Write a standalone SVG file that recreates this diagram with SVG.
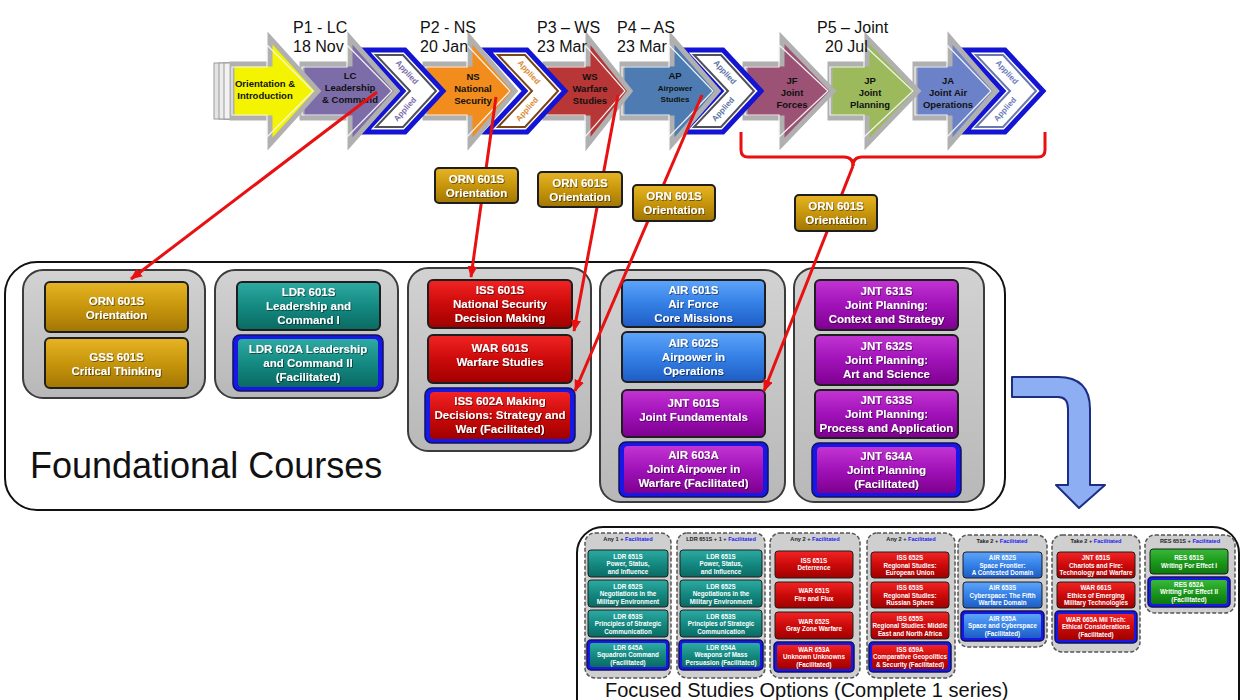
<svg xmlns="http://www.w3.org/2000/svg" width="1241" height="700" viewBox="0 0 1241 700">
<defs>
<linearGradient id="gGold" x1="0" y1="0" x2="0" y2="1"><stop offset="0" stop-color="#e6b424"/><stop offset="0.5" stop-color="#c8960c"/><stop offset="1" stop-color="#a27604"/></linearGradient>
<linearGradient id="gTeal" x1="0" y1="0" x2="0" y2="1"><stop offset="0" stop-color="#2eaaa2"/><stop offset="0.5" stop-color="#148a82"/><stop offset="1" stop-color="#0a6a62"/></linearGradient>
<linearGradient id="gRed" x1="0" y1="0" x2="0" y2="1"><stop offset="0" stop-color="#f22424"/><stop offset="0.5" stop-color="#cc0a0a"/><stop offset="1" stop-color="#a00000"/></linearGradient>
<linearGradient id="gBlue" x1="0" y1="0" x2="0" y2="1"><stop offset="0" stop-color="#5ea4fa"/><stop offset="0.5" stop-color="#3480e6"/><stop offset="1" stop-color="#1e5cc4"/></linearGradient>
<linearGradient id="gPurp" x1="0" y1="0" x2="0" y2="1"><stop offset="0" stop-color="#c234d2"/><stop offset="0.5" stop-color="#a012b8"/><stop offset="1" stop-color="#7e0090"/></linearGradient>
<linearGradient id="gGreen" x1="0" y1="0" x2="0" y2="1"><stop offset="0" stop-color="#38b838"/><stop offset="0.5" stop-color="#1c9a1c"/><stop offset="1" stop-color="#0c780c"/></linearGradient>
<linearGradient id="gGray" x1="0" y1="0" x2="0" y2="1"><stop offset="0" stop-color="#d2d2d2"/><stop offset="1" stop-color="#b8b8b8"/></linearGradient>
<filter id="ts" x="-10%" y="-10%" width="120%" height="130%"><feDropShadow dx="0.8" dy="0.8" stdDeviation="0.4" flood-color="#000" flood-opacity="0.6"/></filter>
<marker id="ah" markerUnits="userSpaceOnUse" markerWidth="12" markerHeight="10" refX="11" refY="5" orient="auto"><path d="M0,0 L12,5 L0,10 z" fill="#e81010"/></marker>
<style>
.lbl{font-family:"Liberation Sans",Arial,sans-serif;font-size:16px;fill:#111}
.at{font-family:"Liberation Sans",Arial,sans-serif;font-weight:bold;font-size:9.5px;fill:#111;text-anchor:middle}
.ap{font-family:"Liberation Sans",Arial,sans-serif;font-weight:bold;font-size:8px;text-anchor:middle}
.ct{font-family:"Liberation Sans",Arial,sans-serif;font-weight:bold;font-size:11.5px;fill:#fff;text-anchor:middle;filter:url(#ts)}
.ft{font-family:"Liberation Sans",Arial,sans-serif;font-weight:bold;font-size:6.3px;fill:#fff;text-anchor:middle}
.hd{font-family:"Liberation Sans",Arial,sans-serif;font-weight:bold;font-size:5.6px;fill:#222;text-anchor:middle}
.hd tspan.b{fill:#2222ee}
.bev{stroke:#b0b0b0;stroke-width:5;stroke-linejoin:miter}
.bevi{fill:none;stroke:#f2f2f2;stroke-width:1.2}
.chev{fill:#fff;stroke:#1414d4;stroke-width:5;stroke-linejoin:miter}
.cbox{stroke:#1e1e1e;stroke-width:2}
.fac{fill:#1818e6;stroke:#101060;stroke-width:1.5}
.grp{fill:url(#gGray);stroke:#3c3c3c;stroke-width:2}
.dgrp{fill:#cfcfcf;stroke:#555;stroke-width:1.5;stroke-dasharray:4 2}
.fbox{stroke:#1e1e1e;stroke-width:1}
.red{fill:none;stroke:#e81010;stroke-width:3}
.big{fill:#fff;stroke:#111;stroke-width:2}
</style>
</defs>
<rect width="1241" height="700" fill="#fff"/>

<!-- Top phase bar (drawn last-to-first so earlier elements sit on top) -->
<g id="phase-bar">
  <g id="applied4">
    <polygon class="chev" points="965,50 1005,50 1043,91 1005,132 965,132 1003,91"/>
    <polygon fill="none" stroke="#6a78ae" stroke-width="2" points="976,55 1003,55 1036,91 1003,127 976,127 1010,91"/>
    <text class="ap" fill="#6a7ab8" transform="translate(1005,74) rotate(48)">Applied</text>
    <text class="ap" fill="#6a7ab8" transform="translate(1007,111) rotate(-48)">Applied</text>
  </g>
  <g id="arrow-ja">
    <polygon class="bev" fill="#6c82c8" points="915,64 950,64 950,38 996,91 950,144 950,118 915,118"/>
    <polygon class="bevi" points="915,67 947,67 947,45 991,91 947,137 947,115 915,115"/>
    <text class="at"><tspan x="948" y="84">JA</tspan><tspan x="948" y="96">Joint  Air</tspan><tspan x="948" y="108">Operations</tspan></text>
  </g>
  <g id="arrow-jp">
    <polygon class="bev" fill="#9cba5c" points="830,64 867,64 867,38 918,91 867,144 867,118 830,118"/>
    <polygon class="bevi" points="830,67 864,67 864,45 913,91 864,137 864,115 830,115"/>
    <text class="at"><tspan x="870" y="84">JP</tspan><tspan x="870" y="96">Joint</tspan><tspan x="870" y="108">Planning</tspan></text>
  </g>
  <g id="arrow-jf">
    <polygon class="bev" fill="#9c5274" points="745,64 782,64 782,38 833,91 782,144 782,118 745,118"/>
    <polygon class="bevi" points="745,67 779,67 779,45 828,91 779,137 779,115 745,115"/>
    <text class="at"><tspan x="792" y="84">JF</tspan><tspan x="792" y="96">Joint</tspan><tspan x="792" y="108">Forces</tspan></text>
  </g>
  <g id="applied3">
    <polygon class="chev" points="683,50 723,50 761,91 723,132 683,132 721,91"/>
    <polygon fill="none" stroke="#505058" stroke-width="2" points="694,55 721,55 754,91 721,127 694,127 728,91"/>
    <text class="ap" fill="#5a74a4" transform="translate(723,74) rotate(48)">Applied</text>
    <text class="ap" fill="#5a74a4" transform="translate(725,111) rotate(-48)">Applied</text>
  </g>
  <g id="arrow-ap">
    <polygon class="bev" fill="#4e7cb2" points="622,64 672,64 672,38 718,91 672,144 672,118 622,118"/>
    <polygon class="bevi" points="622,67 669,67 669,45 713,91 669,137 669,115 622,115"/>
    <text class="at"><tspan x="675" y="79">AP</tspan><tspan x="675" y="91" font-size="8">Airpower</tspan><tspan x="675" y="102" font-size="8">Studies</tspan></text>
  </g>
  <g id="arrow-ws">
    <polygon class="bev" fill="#b83636" points="545,64 588,64 588,38 630,91 588,144 588,118 545,118"/>
    <polygon class="bevi" points="545,67 585,67 585,45 625,91 585,137 585,115 545,115"/>
    <text class="at"><tspan x="590" y="80">WS</tspan><tspan x="590" y="92">Warfare</tspan><tspan x="590" y="104">Studies</tspan></text>
  </g>
  <g id="applied2">
    <polygon class="chev" points="487,50 527,50 565,91 527,132 487,132 525,91"/>
    <polygon fill="none" stroke="#7a4616" stroke-width="2" points="498,55 525,55 558,91 525,127 498,127 532,91"/>
    <text class="ap" fill="#d88a34" transform="translate(527,74) rotate(48)">Applied</text>
    <text class="ap" fill="#d88a34" transform="translate(529,111) rotate(-48)">Applied</text>
  </g>
  <g id="arrow-ns">
    <polygon class="bev" fill="#f28c1c" points="425,64 470,64 470,38 515,91 470,144 470,118 425,118"/>
    <polygon class="bevi" points="425,67 467,67 467,45 510,91 467,137 467,115 425,115"/>
    <text class="at"><tspan x="473" y="80">NS</tspan><tspan x="473" y="92">National</tspan><tspan x="473" y="104">Security</tspan></text>
  </g>
  <g id="applied1">
    <polygon class="chev" points="365,50 405,50 443,91 405,132 365,132 403,91"/>
    <polygon fill="none" stroke="#505058" stroke-width="2" points="376,55 403,55 436,91 403,127 376,127 410,91"/>
    <text class="ap" fill="#7a6aa8" transform="translate(405,74) rotate(48)">Applied</text>
    <text class="ap" fill="#7a6aa8" transform="translate(407,111) rotate(-48)">Applied</text>
  </g>
  <g id="arrow-lc">
    <polygon class="bev" fill="#7c6ca8" points="302,64 350,64 350,38 397,91 350,144 350,118 302,118"/>
    <polygon class="bevi" points="302,67 347,67 347,45 392,91 347,137 347,115 302,115"/>
    <text class="at"><tspan x="350" y="79">LC</tspan><tspan x="350" y="91">Leadership</tspan><tspan x="350" y="103">&amp; Command</tspan></text>
  </g>
  <g id="arrow-orientation">
    <rect x="214" y="63" width="20" height="56" fill="#e4e4e4" stroke="#9a9a9a" stroke-width="1"/>
    <rect x="219" y="63" width="20" height="56" fill="#ececec" stroke="#9a9a9a" stroke-width="1"/>
    <rect x="224" y="63" width="20" height="56" fill="#f2f2f2" stroke="#9a9a9a" stroke-width="1"/>
    <polygon class="bev" fill="#f4f400" points="232,64 270,64 270,38 318,91 270,144 270,118 232,118"/>
    <polygon class="bevi" points="232,67 267,67 267,45 313,91 267,137 267,115 232,115"/>
    <text class="at"><tspan x="265" y="87">Orientation &amp;</tspan><tspan x="265" y="99">Introduction</tspan></text>
  </g>
  <text class="lbl"><tspan x="293" y="33">P1 - LC</tspan><tspan x="293" y="52">18 Nov</tspan></text>
  <text class="lbl"><tspan x="420" y="33">P2 - NS</tspan><tspan x="420" y="52">20 Jan</tspan></text>
  <text class="lbl"><tspan x="537" y="33">P3 – WS</tspan><tspan x="537" y="52">23 Mar</tspan></text>
  <text class="lbl"><tspan x="617" y="33">P4 – AS</tspan><tspan x="617" y="52">23 Mar</tspan></text>
  <text class="lbl"><tspan x="817" y="33">P5 – Joint</tspan><tspan x="825" y="52">20 Jul</tspan></text>
</g>

<!-- Foundational courses -->
<g id="foundational">
  <rect class="big" x="5" y="262" width="1000" height="248" rx="32"/>
  <text x="30" y="478" font-family="Liberation Sans, Arial, sans-serif" font-size="36" fill="#111">Foundational Courses</text>
</g>
<g id="grp-orientation">
  <rect class="grp" x="23" y="270" width="182" height="128" rx="20"/>
  <g id="orn601s"><rect class="cbox" x="45" y="282" width="143" height="50" rx="5" fill="url(#gGold)"/><text class="ct"><tspan x="116.5" y="305">ORN 601S</tspan><tspan x="116.5" y="319">Orientation</tspan></text></g>
  <g id="gss601s"><rect class="cbox" x="45" y="338" width="143" height="50" rx="5" fill="url(#gGold)"/><text class="ct"><tspan x="116.5" y="361">GSS 601S</tspan><tspan x="116.5" y="375">Critical Thinking</tspan></text></g>
</g>
<g id="grp-leadership">
  <rect class="grp" x="215" y="270" width="183" height="128" rx="20"/>
  <g id="ldr601s"><rect class="cbox" x="237" y="282" width="143" height="48" rx="5" fill="url(#gTeal)"/><text class="ct"><tspan x="308.5" y="296">LDR 601S</tspan><tspan x="308.5" y="310">Leadership and</tspan><tspan x="308.5" y="324">Command I</tspan></text></g>
  <g id="ldr602a"><rect class="fac" x="233" y="335" width="150" height="56" rx="7"/><rect x="238" y="339" width="140" height="48" rx="4" fill="url(#gTeal)"/><text class="ct"><tspan x="308" y="353">LDR 602A Leadership</tspan><tspan x="308" y="367">and Command II</tspan><tspan x="308" y="381">(Facilitated)</tspan></text></g>
</g>
<g id="grp-security">
  <rect class="grp" x="408" y="268" width="183" height="183" rx="20"/>
  <g id="iss601s"><rect class="cbox" x="428" y="280" width="144" height="48" rx="5" fill="url(#gRed)"/><text class="ct"><tspan x="500" y="294">ISS 601S</tspan><tspan x="500" y="308">National Security</tspan><tspan x="500" y="322">Decision Making</tspan></text></g>
  <g id="war601s"><rect class="cbox" x="428" y="335" width="144" height="48" rx="5" fill="url(#gRed)"/><text class="ct"><tspan x="500" y="352">WAR 601S</tspan><tspan x="500" y="366">Warfare Studies</tspan></text></g>
  <g id="iss602a"><rect class="fac" x="425" y="388" width="150" height="55" rx="7"/><rect x="430" y="392" width="140" height="47" rx="4" fill="url(#gRed)"/><text class="ct"><tspan x="500" y="405">ISS 602A   Making</tspan><tspan x="500" y="419">Decisions: Strategy and</tspan><tspan x="500" y="433">War (Facilitated)</tspan></text></g>
</g>
<g id="grp-airpower">
  <rect class="grp" x="600" y="270" width="185" height="232" rx="20"/>
  <g id="air601s"><rect class="cbox" x="622" y="280" width="143" height="47" rx="5" fill="url(#gBlue)"/><text class="ct"><tspan x="693.5" y="293.5">AIR 601S</tspan><tspan x="693.5" y="307.5">Air Force</tspan><tspan x="693.5" y="321.5">Core Missions</tspan></text></g>
  <g id="air602s"><rect class="cbox" x="622" y="332" width="143" height="50" rx="5" fill="url(#gBlue)"/><text class="ct"><tspan x="693.5" y="347">AIR 602S</tspan><tspan x="693.5" y="361">Airpower in</tspan><tspan x="693.5" y="375">Operations</tspan></text></g>
  <g id="jnt601s"><rect class="cbox" x="622" y="390" width="143" height="47" rx="5" fill="url(#gPurp)"/><text class="ct"><tspan x="693.5" y="407">JNT 601S</tspan><tspan x="693.5" y="421">Joint Fundamentals</tspan></text></g>
  <g id="air603a"><rect class="fac" x="619" y="442" width="149" height="55" rx="7"/><rect x="624" y="446" width="139" height="47" rx="4" fill="url(#gPurp)"/><text class="ct"><tspan x="693.5" y="459">AIR 603A</tspan><tspan x="693.5" y="473">Joint Airpower in</tspan><tspan x="693.5" y="487">Warfare (Facilitated)</tspan></text></g>
</g>
<g id="grp-joint">
  <rect class="grp" x="794" y="268" width="190" height="234" rx="20"/>
  <g id="jnt631s"><rect class="cbox" x="815" y="280" width="143" height="50" rx="5" fill="url(#gPurp)"/><text class="ct"><tspan x="886.5" y="295">JNT 631S</tspan><tspan x="886.5" y="309">Joint Planning:</tspan><tspan x="886.5" y="323">Context and Strategy</tspan></text></g>
  <g id="jnt632s"><rect class="cbox" x="815" y="335" width="143" height="50" rx="5" fill="url(#gPurp)"/><text class="ct"><tspan x="886.5" y="350">JNT 632S</tspan><tspan x="886.5" y="364">Joint Planning:</tspan><tspan x="886.5" y="378">Art and Science</tspan></text></g>
  <g id="jnt633s"><rect class="cbox" x="815" y="390" width="143" height="48" rx="5" fill="url(#gPurp)"/><text class="ct"><tspan x="886.5" y="404">JNT 633S</tspan><tspan x="886.5" y="418">Joint Planning:</tspan><tspan x="886.5" y="432">Process and Application</tspan></text></g>
  <g id="jnt634a"><rect class="fac" x="812" y="443" width="149" height="54" rx="7"/><rect x="817" y="447" width="139" height="46" rx="4" fill="url(#gPurp)"/><text class="ct"><tspan x="886.5" y="459.5">JNT 634A</tspan><tspan x="886.5" y="473.5">Joint Planning</tspan><tspan x="886.5" y="487.5">(Facilitated)</tspan></text></g>
</g>

<!-- Curved transition arrow -->
<g id="transition-arrow">
  <path d="M1012,377 L1058,377 Q1090,377 1090,409 L1090,485 L1105,485 L1079,508 L1056,485 L1068,485 L1068,409 Q1068,397 1058,397 L1012,397 Z" fill="#8eaef4" stroke="#1c2e84" stroke-width="2" stroke-linejoin="round"/>
</g>

<!-- Focused studies -->
<g id="focused">
  <rect class="big" x="577" y="527" width="662" height="200" rx="26"/>
  <text x="605" y="697" font-family="Liberation Sans, Arial, sans-serif" font-size="20" fill="#111">Focused Studies Options (Complete 1 series)</text>
</g>
<g id="fs-ldr-a">
  <rect class="dgrp" x="585" y="533" width="86" height="145" rx="10"/>
  <text class="hd" x="628" y="541">Any 1 + <tspan class="b">Facilitated</tspan></text>
  <rect class="fbox" x="588" y="550" width="80" height="27" rx="3" fill="url(#gTeal)"/><text class="ft"><tspan x="628" y="558.5">LDR 651S</tspan><tspan x="628" y="566">Power, Status,</tspan><tspan x="628" y="573.5">and Influence</tspan></text>
  <rect class="fbox" x="588" y="580" width="80" height="27" rx="3" fill="url(#gTeal)"/><text class="ft"><tspan x="628" y="588.5">LDR 652S</tspan><tspan x="628" y="596">Negotiations in the</tspan><tspan x="628" y="603.5">Military Environment</tspan></text>
  <rect class="fbox" x="588" y="610" width="80" height="27" rx="3" fill="url(#gTeal)"/><text class="ft"><tspan x="628" y="618.5">LDR 653S</tspan><tspan x="628" y="626">Principles of Strategic</tspan><tspan x="628" y="633.5">Communication</tspan></text>
  <rect class="fac" x="587" y="640" width="82" height="30" rx="4"/><rect x="590" y="643" width="76" height="24" rx="2" fill="url(#gTeal)"/><text class="ft"><tspan x="628" y="649.5">LDR 645A</tspan><tspan x="628" y="657">Squadron Command</tspan><tspan x="628" y="664.5">(Facilitated)</tspan></text>
</g>
<g id="fs-ldr-b">
  <rect class="dgrp" x="677" y="533" width="88" height="145" rx="10"/>
  <text class="hd" x="721" y="541">LDR 651S + 1 + <tspan class="b">Facilitated</tspan></text>
  <rect class="fbox" x="680" y="550" width="82" height="27" rx="3" fill="url(#gTeal)"/><text class="ft"><tspan x="721" y="558.5">LDR 651S</tspan><tspan x="721" y="566">Power, Status,</tspan><tspan x="721" y="573.5">and Influence</tspan></text>
  <rect class="fbox" x="680" y="580" width="82" height="27" rx="3" fill="url(#gTeal)"/><text class="ft"><tspan x="721" y="588.5">LDR 652S</tspan><tspan x="721" y="596">Negotiations in the</tspan><tspan x="721" y="603.5">Military Environment</tspan></text>
  <rect class="fbox" x="680" y="610" width="82" height="27" rx="3" fill="url(#gTeal)"/><text class="ft"><tspan x="721" y="618.5">LDR 653S</tspan><tspan x="721" y="626">Principles of Strategic</tspan><tspan x="721" y="633.5">Communication</tspan></text>
  <rect class="fac" x="679" y="640" width="84" height="30" rx="4"/><rect x="682" y="643" width="78" height="24" rx="2" fill="url(#gTeal)"/><text class="ft"><tspan x="721" y="649.5">LDR 654A</tspan><tspan x="721" y="657">Weapons of Mass</tspan><tspan x="721" y="664.5">Persuasion (Facilitated)</tspan></text>
</g>
<g id="fs-war">
  <rect class="dgrp" x="770" y="533" width="90" height="145" rx="10"/>
  <text class="hd" x="815" y="541">Any 2 + <tspan class="b">Facilitated</tspan></text>
  <rect class="fbox" x="775" y="551" width="78" height="27" rx="3" fill="url(#gRed)"/><text class="ft"><tspan x="814" y="562.5">ISS 651S</tspan><tspan x="814" y="570">Deterrence</tspan></text>
  <rect class="fbox" x="775" y="582" width="78" height="26" rx="3" fill="url(#gRed)"/><text class="ft"><tspan x="814" y="593">WAR 651S</tspan><tspan x="814" y="600.5">Fire and Flux</tspan></text>
  <rect class="fbox" x="775" y="612" width="78" height="27" rx="3" fill="url(#gRed)"/><text class="ft"><tspan x="814" y="623.5">WAR 652S</tspan><tspan x="814" y="631">Gray Zone Warfare</tspan></text>
  <rect class="fac" x="774" y="642" width="80" height="30" rx="4"/><rect x="777" y="645" width="74" height="24" rx="2" fill="url(#gRed)"/><text class="ft"><tspan x="814" y="651.5">WAR 653A</tspan><tspan x="814" y="659">Unknown Unknowns</tspan><tspan x="814" y="666.5">(Facilitated)</tspan></text>
</g>
<g id="fs-iss">
  <rect class="dgrp" x="867" y="533" width="88" height="145" rx="10"/>
  <text class="hd" x="911" y="541">Any 2 + <tspan class="b">Facilitated</tspan></text>
  <rect class="fbox" x="871" y="552" width="78" height="26" rx="3" fill="url(#gRed)"/><text class="ft"><tspan x="910" y="560">ISS 652S</tspan><tspan x="910" y="567.5">Regional Studies:</tspan><tspan x="910" y="575">European Union</tspan></text>
  <rect class="fbox" x="871" y="582" width="78" height="26" rx="3" fill="url(#gRed)"/><text class="ft"><tspan x="910" y="590">ISS 653S</tspan><tspan x="910" y="597.5">Regional Studies:</tspan><tspan x="910" y="605">Russian Sphere</tspan></text>
  <rect class="fbox" x="871" y="612" width="78" height="27" rx="3" fill="url(#gRed)"/><text class="ft"><tspan x="910" y="620.5">ISS 655S</tspan><tspan x="910" y="628">Regional Studies: Middle</tspan><tspan x="910" y="635.5">East and North Africa</tspan></text>
  <rect class="fac" x="869" y="642" width="82" height="30" rx="4"/><rect x="872" y="645" width="76" height="24" rx="2" fill="url(#gRed)"/><text class="ft"><tspan x="910" y="651.5">ISS 659A</tspan><tspan x="910" y="659">Comparative Geopolitics</tspan><tspan x="910" y="666.5">&amp; Security (Facilitated)</tspan></text>
</g>
<g id="fs-air">
  <rect class="dgrp" x="958" y="535" width="89" height="112" rx="10"/>
  <text class="hd" x="1002" y="543">Take 2 + <tspan class="b">Facilitated</tspan></text>
  <rect class="fbox" x="963" y="552" width="79" height="26" rx="3" fill="url(#gBlue)"/><text class="ft"><tspan x="1002.5" y="560">AIR 652S</tspan><tspan x="1002.5" y="567.5">Space Frontier:</tspan><tspan x="1002.5" y="575">A Contested Domain</tspan></text>
  <rect class="fbox" x="963" y="582" width="79" height="26" rx="3" fill="url(#gBlue)"/><text class="ft"><tspan x="1002.5" y="590">AIR 653S</tspan><tspan x="1002.5" y="597.5">Cyberspace:  The Fifth</tspan><tspan x="1002.5" y="605">Warfare Domain</tspan></text>
  <rect class="fac" x="961" y="611" width="83" height="30" rx="4"/><rect x="964" y="614" width="77" height="24" rx="2" fill="url(#gBlue)"/><text class="ft"><tspan x="1002.5" y="620.5">AIR 655A</tspan><tspan x="1002.5" y="628">Space and Cyberspace</tspan><tspan x="1002.5" y="635.5">(Facilitated)</tspan></text>
</g>
<g id="fs-tech">
  <rect class="dgrp" x="1052" y="535" width="88" height="117" rx="10"/>
  <text class="hd" x="1096" y="543">Take 2 + <tspan class="b">Facilitated</tspan></text>
  <rect class="fbox" x="1057" y="552" width="78" height="26" rx="3" fill="url(#gRed)"/><text class="ft"><tspan x="1096" y="560">JNT 651S</tspan><tspan x="1096" y="567.5">Chariots and Fire:</tspan><tspan x="1096" y="575">Technology and Warfare</tspan></text>
  <rect class="fbox" x="1057" y="582" width="78" height="26" rx="3" fill="url(#gRed)"/><text class="ft"><tspan x="1096" y="590">WAR 661S</tspan><tspan x="1096" y="597.5">Ethics of Emerging</tspan><tspan x="1096" y="605">Military Technologies</tspan></text>
  <rect class="fac" x="1055" y="611" width="82" height="32" rx="4"/><rect x="1058" y="614" width="76" height="26" rx="2" fill="url(#gRed)"/><text class="ft"><tspan x="1096" y="621.5">WAR 665A  Mil Tech:</tspan><tspan x="1096" y="629">Ethical Considerations</tspan><tspan x="1096" y="636.5">(Facilitated)</tspan></text>
</g>
<g id="fs-res">
  <rect class="dgrp" x="1145" y="535" width="90" height="78" rx="10"/>
  <text class="hd" x="1190" y="543">RES 651S + <tspan class="b">Facilitated</tspan></text>
  <rect class="fbox" x="1150" y="549" width="78" height="25" rx="3" fill="url(#gGreen)"/><text class="ft"><tspan x="1189" y="560">RES 651S</tspan><tspan x="1189" y="567.5">Writing For Effect I</tspan></text>
  <rect class="fac" x="1148" y="577" width="82" height="30" rx="4"/><rect x="1151" y="580" width="76" height="24" rx="2" fill="url(#gGreen)"/><text class="ft"><tspan x="1189" y="586.5">RES 652A</tspan><tspan x="1189" y="594">Writing For Effect II</tspan><tspan x="1189" y="601.5">(Facilitated)</tspan></text>
</g>

<!-- Connectors -->
<g id="connectors">
  <path class="red" d="M377,92 L131,279" marker-end="url(#ah)"/>
  <path class="red" d="M496,97 L471,277" marker-end="url(#ah)"/>
  <path class="red" d="M618,95 L574,331" marker-end="url(#ah)"/>
  <path class="red" d="M702,95 L575,391" marker-end="url(#ah)"/>
  <path class="red" d="M741,132 L741,150 Q741,157 748,157 L844,157 Q853,157 853,166"/>
  <path class="red" d="M853,166 Q853,157 862,157 L1038,157 Q1045,157 1045,150 L1045,132"/>
  <path class="red" d="M853,166 L764,391" marker-end="url(#ah)"/>
</g>

<!-- ORN labels on the connectors -->
<g id="orn-label-1"><rect class="cbox" x="435" y="168" width="83" height="35" rx="4" fill="url(#gGold)"/><text class="ct"><tspan x="476.5" y="183">ORN 601S</tspan><tspan x="476.5" y="197">Orientation</tspan></text></g>
<g id="orn-label-2"><rect class="cbox" x="538" y="172" width="84" height="35" rx="4" fill="url(#gGold)"/><text class="ct"><tspan x="580" y="187">ORN 601S</tspan><tspan x="580" y="201">Orientation</tspan></text></g>
<g id="orn-label-3"><rect class="cbox" x="633" y="185" width="82" height="36" rx="4" fill="url(#gGold)"/><text class="ct"><tspan x="674" y="200">ORN 601S</tspan><tspan x="674" y="214">Orientation</tspan></text></g>
<g id="orn-label-4"><rect class="cbox" x="795" y="195" width="82" height="36" rx="4" fill="url(#gGold)"/><text class="ct"><tspan x="836" y="210">ORN 601S</tspan><tspan x="836" y="224">Orientation</tspan></text></g>
</svg>
